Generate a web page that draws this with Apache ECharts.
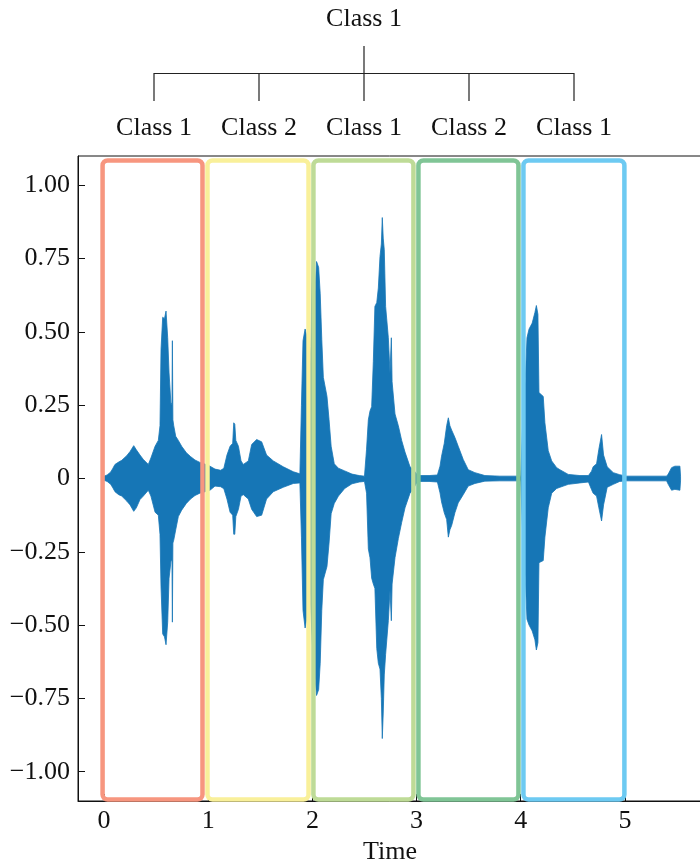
<!DOCTYPE html>
<html><head><meta charset="utf-8">
<script src="https://cdn.jsdelivr.net/npm/echarts@6/dist/echarts.min.js"></script>
<style>html,body{margin:0;padding:0;background:#fff}#c{width:700px;height:859px}</style>
</head><body><div id="c"></div>
<script>
// Waveform envelope: time (s), upper and lower amplitude
const timeS = [
 0.000,0.030,0.064,0.085,0.105,0.140,0.170,0.218,0.250,0.285,0.310,0.345,0.377,0.425,0.450,0.490,0.521,0.537,0.547,0.563,0.580,0.595,0.611,0.624,0.643,0.652,0.656,0.661,0.669,0.688,0.713,0.745,0.790,0.830,0.873,0.920,0.960,1.000,
 1.017,1.065,1.120,1.150,1.180,1.210,1.235,1.245,1.255,1.265,1.290,1.315,1.337,1.385,1.417,1.465,1.513,1.560,1.625,1.720,1.817,1.880,1.895,1.910,1.930,1.950,1.965,1.985,2.005,2.020,2.040,2.060,2.075,2.090,2.105,2.140,2.160,2.180,2.210,2.250,2.310,2.380,2.450,2.500,
 2.520,2.537,2.553,2.569,2.585,2.600,2.618,2.633,2.649,2.662,2.671,2.680,2.690,2.703,2.729,2.745,2.758,2.765,2.793,2.825,2.857,2.889,2.937,2.970,3.000,
 3.030,3.120,3.200,3.225,3.240,3.266,3.289,3.305,3.320,3.337,3.368,3.400,3.448,3.496,3.560,3.656,3.800,3.960,
 4.000,4.020,4.044,4.060,4.080,4.110,4.136,4.150,4.165,4.175,4.216,4.232,4.264,4.297,4.345,4.376,4.456,4.568,4.650,4.680,4.695,4.728,4.750,4.776,4.795,4.830,4.888,4.950,5.016,5.400,5.416,5.448,5.480,5.528,5.534
];
const upperEnv = [
 0.008,0.012,0.022,0.035,0.048,0.056,0.062,0.078,0.092,0.112,0.098,0.080,0.065,0.048,0.070,0.110,0.130,0.180,0.440,0.550,0.545,0.571,0.480,0.360,0.250,0.260,0.470,0.200,0.180,0.144,0.130,0.110,0.088,0.075,0.063,0.055,0.050,0.045,
 0.042,0.032,0.028,0.035,0.080,0.110,0.120,0.190,0.185,0.130,0.110,0.060,0.048,0.060,0.116,0.133,0.125,0.080,0.060,0.040,0.023,0.016,0.250,0.470,0.510,0.480,0.300,0.450,0.840,0.600,0.740,0.720,0.630,0.475,0.345,0.280,0.200,0.110,0.050,0.035,0.026,0.015,0.010,0.008,
 0.100,0.200,0.230,0.245,0.400,0.587,0.600,0.650,0.757,0.800,0.890,0.820,0.780,0.587,0.480,0.360,0.480,0.330,0.220,0.180,0.130,0.090,0.040,0.030,0.015,
 0.010,0.010,0.012,0.042,0.076,0.120,0.180,0.207,0.180,0.165,0.140,0.110,0.065,0.030,0.020,0.010,0.008,0.008,
 0.008,0.200,0.340,0.480,0.510,0.530,0.566,0.590,0.560,0.293,0.280,0.190,0.095,0.060,0.037,0.030,0.014,0.010,0.010,0.025,0.040,0.050,0.100,0.150,0.080,0.040,0.020,0.013,0.008,0.008,0.015,0.037,0.042,0.042,0.008
];
const lowerEnv = [
 -0.006,-0.010,-0.020,-0.032,-0.045,-0.055,-0.060,-0.077,-0.090,-0.112,-0.100,-0.072,-0.060,-0.040,-0.060,-0.115,-0.125,-0.190,-0.370,-0.530,-0.540,-0.567,-0.490,-0.340,-0.280,-0.280,-0.490,-0.220,-0.210,-0.175,-0.130,-0.108,-0.085,-0.070,-0.058,-0.050,-0.046,-0.042,
 -0.040,-0.026,-0.028,-0.035,-0.070,-0.115,-0.125,-0.190,-0.190,-0.130,-0.105,-0.060,-0.055,-0.070,-0.105,-0.130,-0.125,-0.070,-0.045,-0.030,-0.017,-0.015,-0.200,-0.450,-0.510,-0.470,-0.300,-0.450,-0.600,-0.660,-0.740,-0.720,-0.630,-0.450,-0.345,-0.300,-0.220,-0.120,-0.085,-0.060,-0.034,-0.018,-0.012,-0.010,
 -0.050,-0.240,-0.270,-0.340,-0.360,-0.375,-0.580,-0.630,-0.650,-0.750,-0.887,-0.800,-0.670,-0.600,-0.485,-0.380,-0.485,-0.360,-0.270,-0.205,-0.150,-0.100,-0.050,-0.035,-0.015,
 -0.010,-0.010,-0.012,-0.049,-0.080,-0.117,-0.140,-0.200,-0.175,-0.160,-0.117,-0.083,-0.055,-0.026,-0.017,-0.009,-0.008,-0.008,
 -0.008,-0.200,-0.346,-0.480,-0.500,-0.520,-0.550,-0.585,-0.560,-0.287,-0.280,-0.200,-0.100,-0.050,-0.034,-0.030,-0.020,-0.015,-0.012,-0.038,-0.050,-0.060,-0.100,-0.145,-0.090,-0.030,-0.020,-0.010,-0.008,-0.008,-0.020,-0.040,-0.037,-0.040,-0.008
];
// Segment boxes (time range)
const boxStart = [-0.014, 0.993, 2.010, 3.018, 4.026];
const boxEnd   = [0.945, 1.963, 2.970, 3.978, 4.995];
const boxTop = 1.085, boxBottom = -1.095;
const boxColors = ['#F7967F', '#F9F09A', '#BEDB97', '#80C596', '#6DCAF2'];
// Hierarchy labels
const rootLabel = 'Class 1';
const leafLabels = ['Class 1', 'Class 2', 'Class 1', 'Class 2', 'Class 1'];
// Ticks
const xTicks = [0, 1, 2, 3, 4, 5];
const yTicks = [-1, -0.75, -0.5, -0.25, 0, 0.25, 0.5, 0.75, 1];

const FONT = 'Liberation Serif';
const WAVE = '#1676b6';
const chart = echarts.init(document.getElementById('c'));
const waveData = timeS.map((t, i) => [t, upperEnv[i], lowerEnv[i]]);
const fmtY = v => v === 0 ? '0' : (v < 0 ? '\u2212' : '') + Math.abs(v).toFixed(2);

chart.setOption({
  animation: false,
  backgroundColor: '#fff',
  textStyle: {fontFamily: FONT},
  grid: {left: 78, right: -2, top: 156, height: 645, show: true, borderColor: '#111', borderWidth: 1,
         outerBoundsMode: 'none', containLabel: false},
  xAxis: {
    type: 'value', min: -0.25, max: 5.74,
    name: 'Time', nameLocation: 'middle', nameGap: 38,
    nameTextStyle: {fontFamily: FONT, fontSize: 26, color: '#111'},
    axisLine: {show: true, onZero: false, lineStyle: {color: '#111', width: 1}},
    axisTick: {show: true, inside: true, length: 7, customValues: xTicks, lineStyle: {color: '#111'}},
    axisLabel: {customValues: xTicks, fontFamily: FONT, fontSize: 26, color: '#111', margin: 7},
    splitLine: {show: false}
  },
  yAxis: {
    type: 'value', min: -1.1, max: 1.1,
    axisLine: {show: true, onZero: false, lineStyle: {color: '#111', width: 1}},
    axisTick: {show: true, inside: true, length: 7, customValues: yTicks, lineStyle: {color: '#111'}},
    axisLabel: {customValues: yTicks, formatter: fmtY, fontFamily: FONT, fontSize: 26, color: '#111', margin: 8},
    splitLine: {show: false}
  },
  series: [
    {type: 'custom', silent: true, z: 2, clip: true,
     data: [0],
     renderItem: function (params, api) {
       // one filled band: upper envelope forward, lower envelope back
       const pts = [];
       for (let i = 0; i < waveData.length; i++) pts.push(api.coord([waveData[i][0], waveData[i][1]]));
       for (let i = waveData.length - 1; i >= 0; i--) pts.push(api.coord([waveData[i][0], waveData[i][2]]));
       return {type: 'polygon', shape: {points: pts},
               style: {fill: WAVE, stroke: WAVE, lineWidth: 0.8}};
     }},
    {type: 'custom', silent: true, z: 5, clip: false,
     data: boxStart.map((s, i) => [s, boxEnd[i], boxTop, boxBottom]),
     encode: {x: [0, 1], y: [2, 3]},
     renderItem: function (params, api) {
       const p0 = api.coord([api.value(0), api.value(2)]);
       const p1 = api.coord([api.value(1), api.value(3)]);
       return {type: 'rect', shape: {x: p0[0], y: p0[1], width: p1[0] - p0[0], height: p1[1] - p0[1], r: 5},
               style: {fill: 'none', stroke: boxColors[params.dataIndex], lineWidth: 4.5}};
     }},
    {type: 'tree', silent: true, animation: false, expandAndCollapse: false, roam: false,
     data: [{name: rootLabel, children: leafLabels.map(n => ({name: n}))}],
     orient: 'TB', layout: 'orthogonal', edgeShape: 'polyline',
     left: 101.5, right: 73.5, top: 46, bottom: 758,
     symbolSize: 0,
     lineStyle: {color: '#222', width: 1.2},
     label: {position: 'top', distance: 14, fontFamily: FONT, fontSize: 26, color: '#111'},
     leaves: {label: {position: 'bottom', distance: 14, fontFamily: FONT, fontSize: 26, color: '#111'}},
     emphasis: {disabled: true}}
  ]
});
</script></body></html>
